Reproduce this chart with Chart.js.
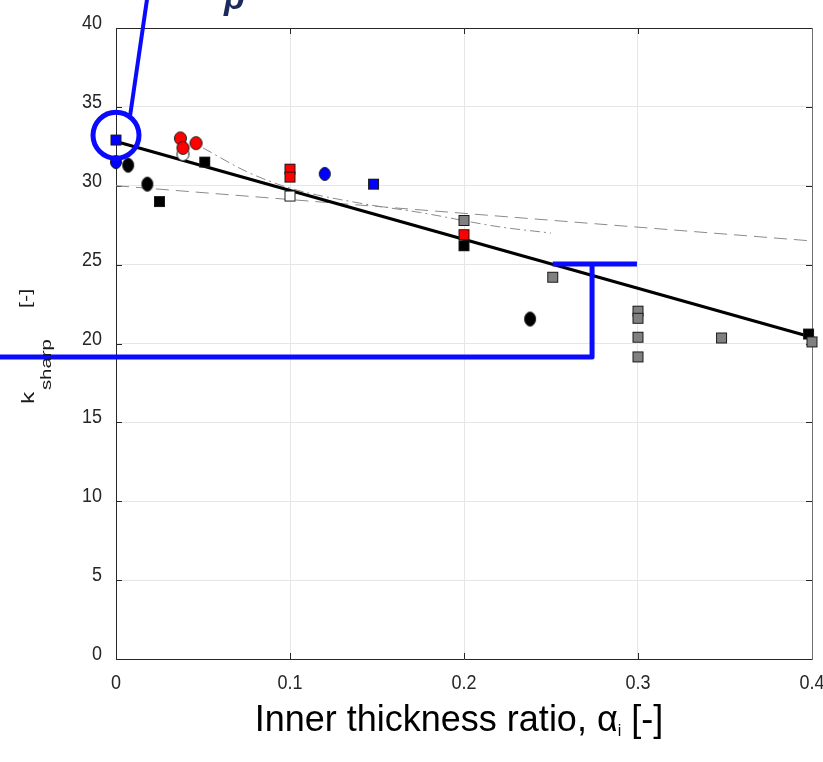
<!DOCTYPE html>
<html>
<head>
<meta charset="utf-8">
<script src="https://cdn.jsdelivr.net/npm/chart.js@4.4.1/dist/chart.umd.min.js"></script>
<style>
  html, body { margin: 0; padding: 0; background: #fff; }
  #wrap { width: 823px; height: 762px; position: relative; }
</style>
</head>
<body>
<div id="wrap"><canvas id="chart"></canvas></div>
<script>
// tick values
const xTicks = [0, 0.1, 0.2, 0.3, 0.4];
const yTicks = [0, 5, 10, 15, 20, 25, 30, 35, 40];
const xTickLabels = ['0', '0.1', '0.2', '0.3', '0.4'];
const yTickLabels = ['0', '5', '10', '15', '20', '25', '30', '35', '40'];

const blackSquareX = [0.025, 0.051, 0.2, 0.398];
const blackSquareY = [29.0, 31.5, 26.2, 20.6];
const blackCircleX = [0.007, 0.018, 0.238];
const blackCircleY = [31.3, 30.1, 21.55];
const redCircleX = [0.037, 0.0385, 0.046];
const redCircleY = [33.0, 32.4, 32.7];
const whiteCircleX = [0.0385];
const whiteCircleY = [32.0];
const redSquareX = [0.1, 0.1, 0.2];
const redSquareY = [31.05, 30.55, 26.9];
const whiteSquareX = [0.1];
const whiteSquareY = [29.35];
const blueSquareX = [0, 0.148];
const blueSquareY = [32.9, 30.1];
const blueCircleX = [0, 0.12];
const blueCircleY = [31.5, 30.75];
const graySquareX = [0.2, 0.251, 0.3, 0.3, 0.3, 0.3, 0.348, 0.4];
const graySquareY = [27.8, 24.2, 22.05, 21.6, 20.4, 19.15, 20.35, 20.1];

// fitted / model curves
const fitX = [0, 0.4];
const fitY = [32.8, 20.4];
const dashX = [0, 0.4];
const dashY = [30.0, 26.5];
const dashDotX = [0.05, 0.075, 0.1, 0.14, 0.175, 0.22, 0.25];
const dashDotY = [32.4, 30.9, 29.85, 28.9, 28.3, 27.4, 27.0];

// blue annotations (data units)
const ringX = 0, ringY = 33.2;
const leaderX = [0.008, 0.0178];
const leaderY = [34.36, 41.8];
const bracketX = [-0.07, 0.2736, 0.2736];
const bracketY = [19.14, 19.14, 25.04];
const bracketTopX = [0.251, 0.2994];
const bracketTopY = [25.04, 25.04];

const zip = (xs, ys) => xs.map((x, i) => ({ x, y: ys[i] }));

function marker(shape, fill, w, h) {
  const c = document.createElement('canvas');
  c.width = w + 2; c.height = h + 2;
  const g = c.getContext('2d');
  g.fillStyle = fill;
  g.strokeStyle = '#1a1a1a';
  g.lineWidth = 1;
  if (shape === 'sq') {
    g.fillRect(1, 1, w, h);
    g.strokeRect(1.5, 1.5, w - 1, h - 1);
  } else {
    g.beginPath();
    g.ellipse((w + 2) / 2, (h + 2) / 2, w / 2 - 0.5, h / 2 - 0.5, 0, 0, Math.PI * 2);
    g.fill();
    g.stroke();
  }
  return c;
}

function pts(xs, ys, style, order) {
  return { type: 'scatter', data: zip(xs, ys), pointStyle: style, pointRadius: 6, clip: false, order };
}

function stretchText(ctx, txt, x, y, sy) {
  ctx.save();
  ctx.translate(x, y);
  ctx.scale(1, sy);
  ctx.fillText(txt, 0, 0);
  ctx.restore();
}

const frame = {
  id: 'frame',
  beforeDatasetsDraw(chart) {
    const { ctx, chartArea: a, scales: { x, y } } = chart;
    ctx.save();
    ctx.strokeStyle = '#262626';
    ctx.lineWidth = 1;
    ctx.beginPath();
    xTicks.forEach(v => {
      const px = Math.round(x.getPixelForValue(v)) + 0.5;
      ctx.moveTo(px, a.bottom); ctx.lineTo(px, a.bottom - 6);
      ctx.moveTo(px, a.top); ctx.lineTo(px, a.top + 6);
    });
    yTicks.forEach(v => {
      const py = Math.round(y.getPixelForValue(v)) + 0.5;
      ctx.moveTo(a.left, py); ctx.lineTo(a.left + 6, py);
      ctx.moveTo(a.right, py); ctx.lineTo(a.right - 6, py);
    });
    ctx.stroke();
    ctx.beginPath();
    ctx.moveTo(a.right + 0.5, a.top + 0.5);
    ctx.lineTo(a.left + 0.5, a.top + 0.5);
    ctx.lineTo(a.left + 0.5, a.bottom + 0.5);
    ctx.lineTo(a.right + 0.5, a.bottom + 0.5);
    ctx.stroke();
    ctx.strokeStyle = '#6e6e6e';
    ctx.beginPath();
    ctx.moveTo(a.right + 0.5, a.top); ctx.lineTo(a.right + 0.5, a.bottom + 1);
    ctx.stroke();
    ctx.restore();
  },
  afterDraw(chart) {
    const { ctx, chartArea: a, scales: { x, y } } = chart;
    ctx.save();
    ctx.fillStyle = '#262626';
    ctx.font = '18px "Liberation Sans", Arial, sans-serif';
    ctx.textBaseline = 'alphabetic';
    ctx.textAlign = 'right';
    yTicks.forEach((v, i) => stretchText(ctx, yTickLabels[i], 102, y.getPixelForValue(v) + 1, 1.15));
    ctx.textAlign = 'center';
    xTicks.forEach((v, i) => stretchText(ctx, xTickLabels[i], x.getPixelForValue(v), 689, 1.15));

    // x title
    ctx.fillStyle = '#000';
    ctx.textAlign = 'left';
    const big = '36px "Liberation Sans", Arial, sans-serif';
    const small = '16px "Liberation Sans", Arial, sans-serif';
    const t1 = 'Inner thickness ratio, \u03b1', t2 = 'i', t3 = ' [-]';
    ctx.font = big; const w1 = ctx.measureText(t1).width; const w3 = ctx.measureText(t3).width;
    ctx.font = small; const w2 = ctx.measureText(t2).width;
    let tx = 459 - (w1 + w2 + w3) / 2;
    ctx.font = big; stretchText(ctx, t1, tx, 731, 1.05); tx += w1;
    ctx.font = small; stretchText(ctx, t2, tx, 736, 1.05); tx += w2;
    ctx.font = big; stretchText(ctx, t3, tx, 731, 1.05);

    // y title, rotated
    ctx.save();
    ctx.rotate(-Math.PI / 2);
    ctx.scale(1.35, 1);
    ctx.fillStyle = '#1a1a1a';
    ctx.font = '18px "Liberation Sans", Arial, sans-serif';
    ctx.fillText('k', -404 / 1.35, 34);
    ctx.font = '15px "Liberation Sans", Arial, sans-serif';
    ctx.fillText('sharp', -390 / 1.35, 51);
    ctx.font = '16px "Liberation Sans", Arial, sans-serif';
    ctx.fillText('[-]', -308 / 1.35, 31);
    ctx.restore();
    ctx.restore();
  }
};

const notes = {
  id: 'notes',
  afterDatasetsDraw(chart) {
    const { ctx, scales: { x, y } } = chart;
    const P = (xv, yv) => [x.getPixelForValue(xv), y.getPixelForValue(yv)];
    ctx.save();
    ctx.strokeStyle = '#0a0aff';
    ctx.lineCap = 'butt';
    ctx.lineJoin = 'round';
    ctx.lineWidth = 5;
    const [cx, cy] = P(ringX, ringY);
    ctx.beginPath(); ctx.arc(cx, cy, 23, 0, Math.PI * 2); ctx.stroke();
    ctx.lineWidth = 4;
    ctx.beginPath();
    ctx.moveTo(...P(leaderX[0], leaderY[0])); ctx.lineTo(...P(leaderX[1], leaderY[1]));
    ctx.stroke();
    ctx.lineWidth = 5;
    ctx.beginPath();
    bracketX.forEach((v, i) => i ? ctx.lineTo(...P(v, bracketY[i])) : ctx.moveTo(...P(v, bracketY[i])));
    ctx.stroke();
    ctx.beginPath();
    ctx.moveTo(...P(bracketTopX[0], bracketTopY[0])); ctx.lineTo(...P(bracketTopX[1], bracketTopY[1]));
    ctx.stroke();
    // clipped caption glyph at the top
    ctx.fillStyle = '#1b2a5c';
    ctx.font = 'italic bold 34px "Liberation Sans", Arial, sans-serif';
    ctx.fillText('p', ...P(0.062, 41.2));
    ctx.restore();
  }
};

const ellBlack = marker('el', '#000000', 12, 15);
const ellBlue = marker('el', '#0000ff', 12, 14);
const ellRed = marker('el', '#ff0000', 13, 14);
const ellWhite = marker('el', '#ffffff', 13, 14);
const sqBlack = marker('sq', '#000000', 11, 11);
const sqRed = marker('sq', '#ff0000', 11, 11);
const sqWhite = marker('sq', '#ffffff', 11, 11);
const sqBlue = marker('sq', '#0000ff', 11, 11);
const sqGray = marker('sq', '#808080', 11, 11);

new Chart(document.getElementById('chart'), {
  type: 'scatter',
  data: {
    datasets: [
      { type: 'line', data: zip(dashX, dashY), borderColor: '#8a8a8a', borderWidth: 1, borderDash: [13, 7], pointRadius: 0, clip: false, order: 12 },
      { type: 'line', data: zip(dashDotX, dashDotY), borderColor: '#8a8a8a', borderWidth: 1, borderDash: [10, 4, 2, 4], pointRadius: 0, tension: 0.4, cubicInterpolationMode: 'monotone', clip: false, order: 11 },
      { type: 'line', data: zip(fitX, fitY), borderColor: '#000', borderWidth: 3.2, pointRadius: 0, clip: false, order: 10 },
      pts(whiteCircleX, whiteCircleY, ellWhite, 9),
      pts(blackSquareX, blackSquareY, sqBlack, 8),
      pts(whiteSquareX, whiteSquareY, sqWhite, 7),
      pts(blackCircleX, blackCircleY, ellBlack, 6),
      pts(blueCircleX, blueCircleY, ellBlue, 5),
      pts(redCircleX, redCircleY, ellRed, 4),
      pts(redSquareX, redSquareY, sqRed, 3),
      pts(blueSquareX, blueSquareY, sqBlue, 2),
      pts(graySquareX, graySquareY, sqGray, 1)
    ]
  },
  options: {
    responsive: true,
    maintainAspectRatio: false,
    animation: false,
    layout: { padding: { top: 28, right: 11, left: 0, bottom: 0 } },
    plugins: { legend: { display: false }, tooltip: { enabled: false } },
    scales: {
      x: {
        type: 'linear', min: 0, max: 0.4,
        afterBuildTicks: s => { s.ticks = xTicks.map(v => ({ value: v })); },
        afterFit: s => { s.height = 103; },
        ticks: { display: false },
        grid: { color: '#e6e6e6', drawTicks: false },
        border: { display: false }
      },
      y: {
        type: 'linear', min: 0, max: 40,
        afterBuildTicks: s => { s.ticks = yTicks.map(v => ({ value: v })); },
        afterFit: s => { s.width = 116; },
        ticks: { display: false },
        grid: { color: '#e6e6e6', drawTicks: false },
        border: { display: false }
      }
    }
  },
  plugins: [frame, notes]
});
</script>
</body>
</html>
